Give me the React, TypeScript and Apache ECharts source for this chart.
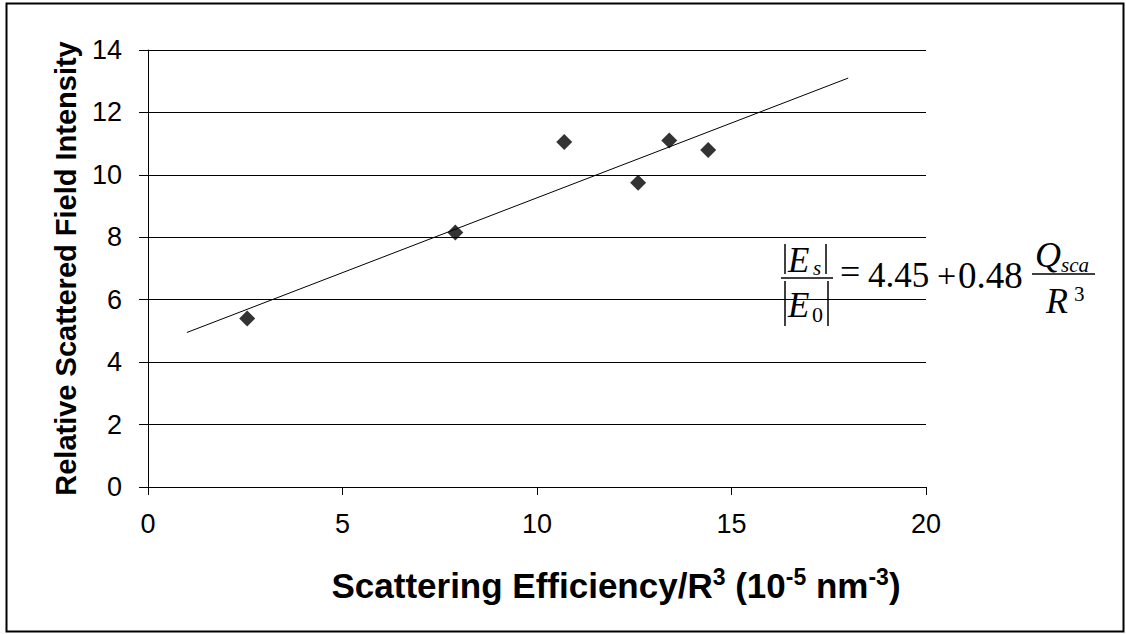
import React, { useEffect, useRef } from "react";
import * as echarts from "echarts";

const xValues = [2.55, 7.9, 10.7, 12.6, 13.4, 14.4];
const yValues = [5.4, 8.15, 11.05, 9.75, 11.1, 10.8];
const fitLine = [
  [1, 4.95],
  [18, 13.1],
];
const yTitle = "Relative Scattered Field Intensity";

export default function App() {
  const ref = useRef<HTMLDivElement>(null);
  useEffect(() => {
    document.body.style.margin = "0";
    const chart = echarts.init(ref.current!, null, { renderer: "svg" });
    const serif = "'Liberation Serif', 'Times New Roman', serif";
    const sans = "'Liberation Sans', Arial, sans-serif";
    const black = "#000";
    const txt = (x: number, y: number, text: string, size: number, italic: boolean) => ({
      type: "text",
      x,
      y,
      style: {
        text,
        fontFamily: serif,
        fontSize: size,
        fontStyle: italic ? "italic" : "normal",
        fill: black,
        align: "left",
        verticalAlign: "middle",
      },
    });
    const ln = (x1: number, y1: number, x2: number, y2: number) => ({
      type: "line",
      shape: { x1, y1, x2, y2 },
      style: { stroke: black, lineWidth: 1.5 },
    });
    chart.setOption({
      animation: false,
      backgroundColor: "#fff",
      grid: { left: 148, right: 200, top: 50, bottom: 147 },
      xAxis: {
        type: "value",
        min: 0,
        max: 20,
        interval: 5,
        axisLine: { show: true, onZero: false, lineStyle: { color: black, width: 1 } },
        axisTick: { show: true, length: 8, lineStyle: { color: black } },
        axisLabel: { color: black, fontSize: 27, fontFamily: sans, margin: 23 },
        splitLine: { show: false },
      },
      yAxis: {
        type: "value",
        min: 0,
        max: 14,
        interval: 2,
        name: yTitle,
        nameLocation: "middle",
        nameGap: 68,
        nameTextStyle: { color: black, fontSize: 29, fontWeight: "bold", fontFamily: sans },
        axisLine: { show: true, lineStyle: { color: black, width: 1 } },
        axisTick: { show: true, length: 9, lineStyle: { color: black } },
        axisLabel: { color: black, fontSize: 27, fontFamily: sans, margin: 26 },
        splitLine: { show: true, lineStyle: { color: black, width: 1 } },
      },
      series: [
        {
          type: "line",
          data: fitLine,
          symbol: "none",
          lineStyle: { color: black, width: 1 },
          silent: true,
        },
        {
          type: "scatter",
          data: xValues.map((x, i) => [x, yValues[i]]),
          symbol: "diamond",
          symbolSize: 16,
          itemStyle: { color: black },
        },
      ],
      graphic: [
        {
          type: "rect",
          shape: { x: 6.5, y: 3.5, width: 1117, height: 628 },
          style: { fill: "none", stroke: black, lineWidth: 2 },
          silent: true,
        },
        {
          type: "text",
          x: 616,
          y: 583,
          style: {
            text: "{m|Scattering Efficiency/R}{s|3}{m| (10}{s|-5}{m| nm}{s|-3}{m|)}",
            align: "center",
            verticalAlign: "middle",
            rich: {
              m: { fontSize: 35, fontWeight: "bold", fontFamily: sans, fill: black, lineHeight: 40, verticalAlign: "bottom" },
              s: { fontSize: 23, fontWeight: "bold", fontFamily: sans, fill: black, lineHeight: 40, verticalAlign: "top", padding: [2, 0, 0, 0] },
            },
          },
        },
        // left fraction |E_s| / |E_0|
        ln(785, 244, 785, 274),
        ln(826, 244, 826, 274),
        txt(788, 260, "E", 35, true),
        txt(813, 268, "s", 21, true),
        ln(781, 278, 833, 278),
        ln(785, 281, 785, 326),
        ln(828, 281, 828, 326),
        txt(788, 305, "E", 35, true),
        txt(812, 314, "0", 22, false),
        txt(840, 272, "=", 36, false),
        txt(868, 275, "4.45", 35, false),
        txt(937, 275, "+", 34, false),
        txt(958, 275, "0.48", 37, false),
        txt(1035, 255, "Q", 36, true),
        txt(1061, 265, "sca", 21, true),
        ln(1032, 274, 1095, 274),
        txt(1046, 301, "R", 36, true),
        txt(1074, 294, "3", 21, false),
      ],
    });
    return () => chart.dispose();
  }, []);
  return <div ref={ref} style={{ width: 1126, height: 634 }} />;
}
